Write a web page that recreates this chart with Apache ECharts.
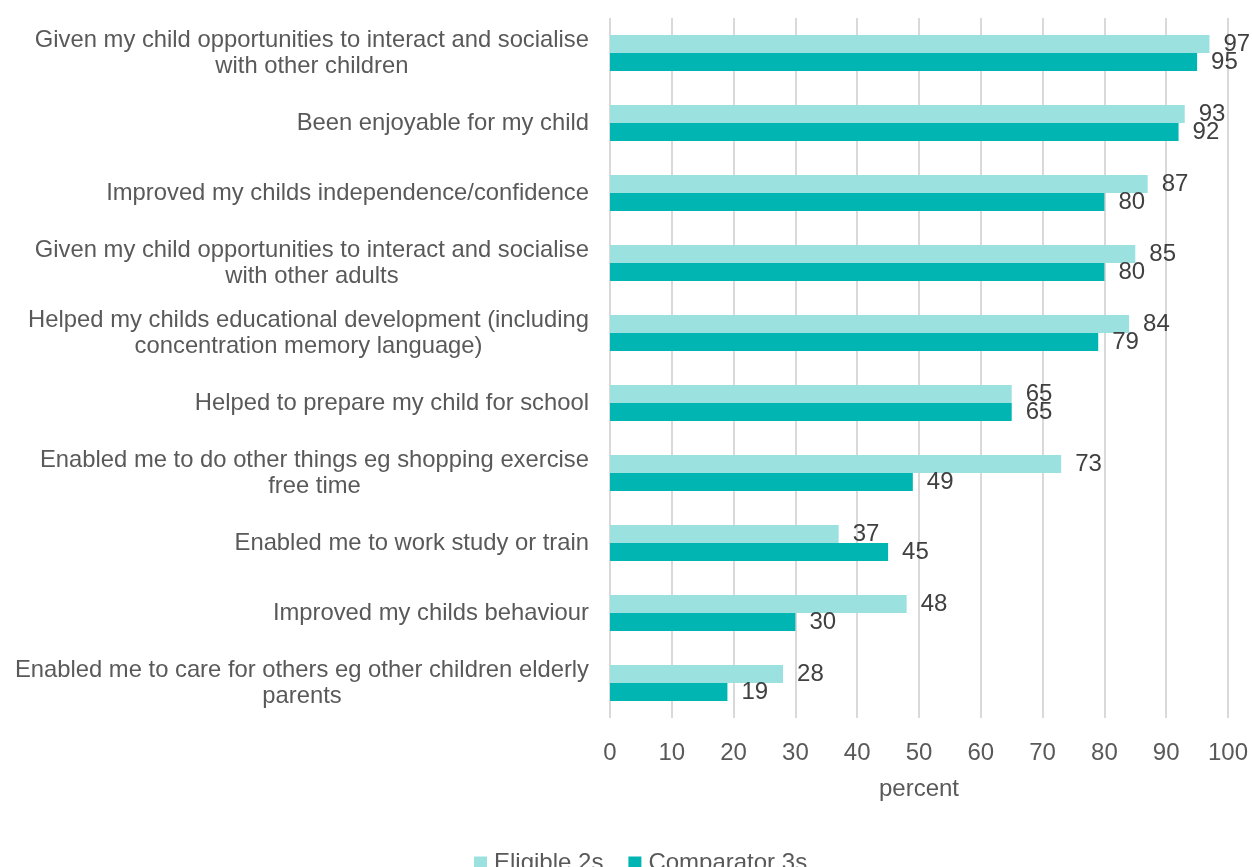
<!DOCTYPE html>
<html>
<head>
<meta charset="utf-8">
<script src="https://cdn.jsdelivr.net/npm/echarts@6/dist/echarts.min.js"></script>
<style>
  html, body { margin: 0; padding: 0; background: #fff; }
  #main { width: 1252px; height: 867px; }
</style>
</head>
<body>
<div id="main"></div>
<script>
// categories, top to bottom
var categories = [
  'Given my child opportunities to interact and socialise\nwith other children',
  'Been enjoyable for my child',
  'Improved my childs independence/confidence',
  'Given my child opportunities to interact and socialise\nwith other adults',
  'Helped my childs educational development (including\nconcentration memory language)',
  'Helped to prepare my child for school',
  'Enabled me to do other things eg shopping exercise\nfree time',
  'Enabled me to work study or train',
  'Improved my childs behaviour',
  'Enabled me to care for others eg other children elderly\nparents'
];
var eligible2s = [97, 93, 87, 85, 84, 65, 73, 37, 48, 28];
var comparator3s = [95, 92, 80, 80, 79, 65, 49, 45, 30, 19];
var xTicks = [0, 10, 20, 30, 40, 50, 60, 70, 80, 90, 100];

var font = '"Liberation Sans", Arial, sans-serif';
var chartDom = document.getElementById('main');
var myChart = echarts.init(chartDom);

function barLabel() {
  return {
    show: true,
    position: 'right',
    distance: 14,
    color: '#404040',
    fontSize: 24,
    fontFamily: font
  };
}

var option = {
  animation: false,
  textStyle: { fontFamily: font },
  grid: { left: 610, right: 24, top: 18, bottom: 149, containLabel: false },
  legend: {
    data: ['Eligible 2s', 'Comparator 3s'],
    left: 469,
    top: 846,
    itemWidth: 13,
    itemHeight: 13,
    itemGap: 25,
    icon: 'rect',
    textStyle: { color: '#595959', fontSize: 24, fontFamily: font, padding: [0, 0, 0, 2] }
  },
  xAxis: {
    type: 'value',
    min: xTicks[0],
    max: xTicks[xTicks.length - 1],
    interval: 10,
    name: 'percent',
    nameLocation: 'middle',
    nameGap: 59,
    nameTextStyle: { color: '#595959', fontSize: 24, fontFamily: font },
    axisLine: { show: false },
    axisTick: { show: false },
    axisLabel: { color: '#595959', fontSize: 24, margin: 23, fontFamily: font },
    splitLine: { show: true, lineStyle: { color: '#d9d9d9', width: 2 } }
  },
  yAxis: {
    type: 'category',
    inverse: true,
    data: categories,
    axisLine: { show: false },
    axisTick: { show: false },
    axisLabel: {
      margin: 21,
      align: 'right',
      formatter: function (v) {
        return v.split('\n').map(function (s) { return '{c|' + s + '}'; }).join('\n');
      },
      rich: {
        c: { align: 'center', color: '#595959', fontSize: 23.8, lineHeight: 26, fontFamily: font }
      }
    }
  },
  series: [
    {
      name: 'Eligible 2s',
      type: 'bar',
      data: eligible2s,
      barGap: '0%',
      barCategoryGap: '48.6%',
      itemStyle: { color: '#9be1e0' },
      label: barLabel()
    },
    {
      name: 'Comparator 3s',
      type: 'bar',
      data: comparator3s,
      barGap: '0%',
      barCategoryGap: '48.6%',
      itemStyle: { color: '#00b5b2' },
      label: barLabel()
    }
  ]
};
option && myChart.setOption(option);
</script>
</body>
</html>
